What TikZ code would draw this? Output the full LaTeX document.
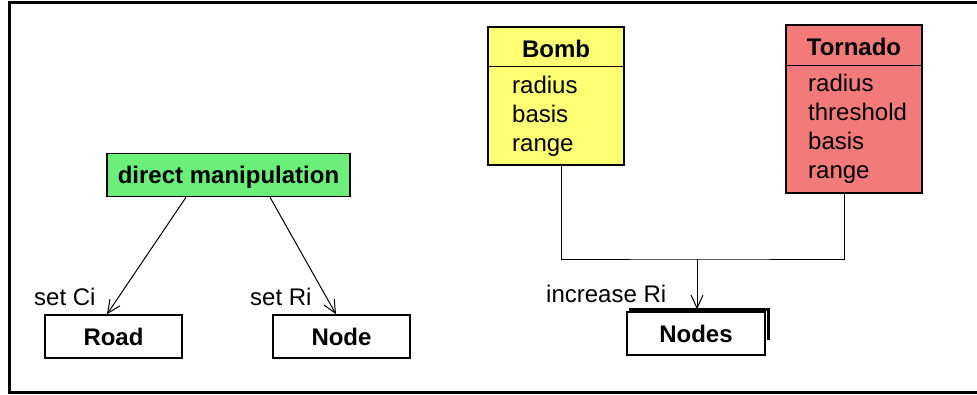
\documentclass[tikz,border=0pt]{standalone}
\usepackage{fontspec}
\setmainfont{Liberation Sans}
\usetikzlibrary{arrows.meta}

\definecolor{dmgreen}{RGB}{108,238,122}
\definecolor{bombyellow}{RGB}{255,255,115}
\definecolor{tornadored}{RGB}{242,122,122}

\tikzset{
    box/.style={draw,line width=1.5pt,minimum width=137pt,minimum height=43pt,inner sep=0pt,
        text height=17pt,text depth=0pt,font=\fontsize{24}{29}\selectfont\bfseries},
    classbox/.style={draw,line width=1.5pt,minimum width=136pt,inner sep=0pt},
    title/.style={anchor=base,inner sep=0pt,font=\fontsize{24}{29}\selectfont\bfseries},
    attr/.style={anchor=base west,inner sep=0pt,font=\fontsize{24}{29}\selectfont},
    lbl/.style={anchor=base west,inner sep=0pt,font=\fontsize{24}{29}\selectfont},
    link/.style={line width=1pt,-{Straight Barb[length=13pt,width=12pt]}},
}

\begin{document}
\begin{tikzpicture}[x=1pt,y=-1pt]
    \useasboundingbox (0,0) rectangle (977,394);
    \draw[line width=3pt] (977,2) -- (9,2) -- (9,392) -- (977,392);

    \node[box,fill=dmgreen,minimum width=243pt] (dm) at (228.5,175) {direct manipulation};
    \node[box] (road) at (113.5,336.5) {Road};
    \node[box] (node) at (341.5,336.5) {Node};
    \node[box,minimum width=138pt] (nodes) at (696,333.5) {Nodes};

    % class boxes
    \node[classbox,fill=bombyellow,minimum height=138pt] (bomb) at (556,96) {};
    \node[classbox,fill=tornadored,minimum height=168pt] (tornado) at (854,109) {};
    \draw[line width=1.5pt] ([yshift=-40pt]bomb.north west) -- ([yshift=-40pt]bomb.north east);
    \draw[line width=1.5pt] ([yshift=-41pt]tornado.north west) -- ([yshift=-41pt]tornado.north east);
    \node[title] (bombtitle) at (556,57) {Bomb};
    \node[title] (tornadotitle) at (854,55) {Tornado};
    \foreach \a [count=\i] in {radius,basis,range}
        \node[attr] (bomb\i) at (512,64+29*\i) {\a};
    \foreach \a [count=\i] in {radius,threshold,basis,range}
        \node[attr] (tornado\i) at (808,62+29*\i) {\a};

    \draw[link] ([xshift=-42.5pt]dm.south) -- ([xshift=-6.5pt]road.north);
    \draw[link] ([xshift=41.5pt]dm.south) -- ([xshift=-5.5pt]node.north);
    \node[lbl] (setci) at (34,305) {set Ci};
    \node[lbl] (setri) at (250,305) {set Ri};

    \coordinate (join) at (697,259);
    \draw[line width=1pt] ([xshift=5pt]bomb.south) |- (join) -| ([xshift=-10pt]tornado.south);
    \draw[link] (join) -- ([xshift=1pt,yshift=2pt]nodes.north);
    \draw[line width=3pt] ([xshift=3pt,yshift=2pt]nodes.north west) -- ([xshift=3pt,yshift=2pt]nodes.north east) -- ++(0,31);
    \node[lbl] (incri) at (546,302) {increase Ri};
\end{tikzpicture}
\end{document}
